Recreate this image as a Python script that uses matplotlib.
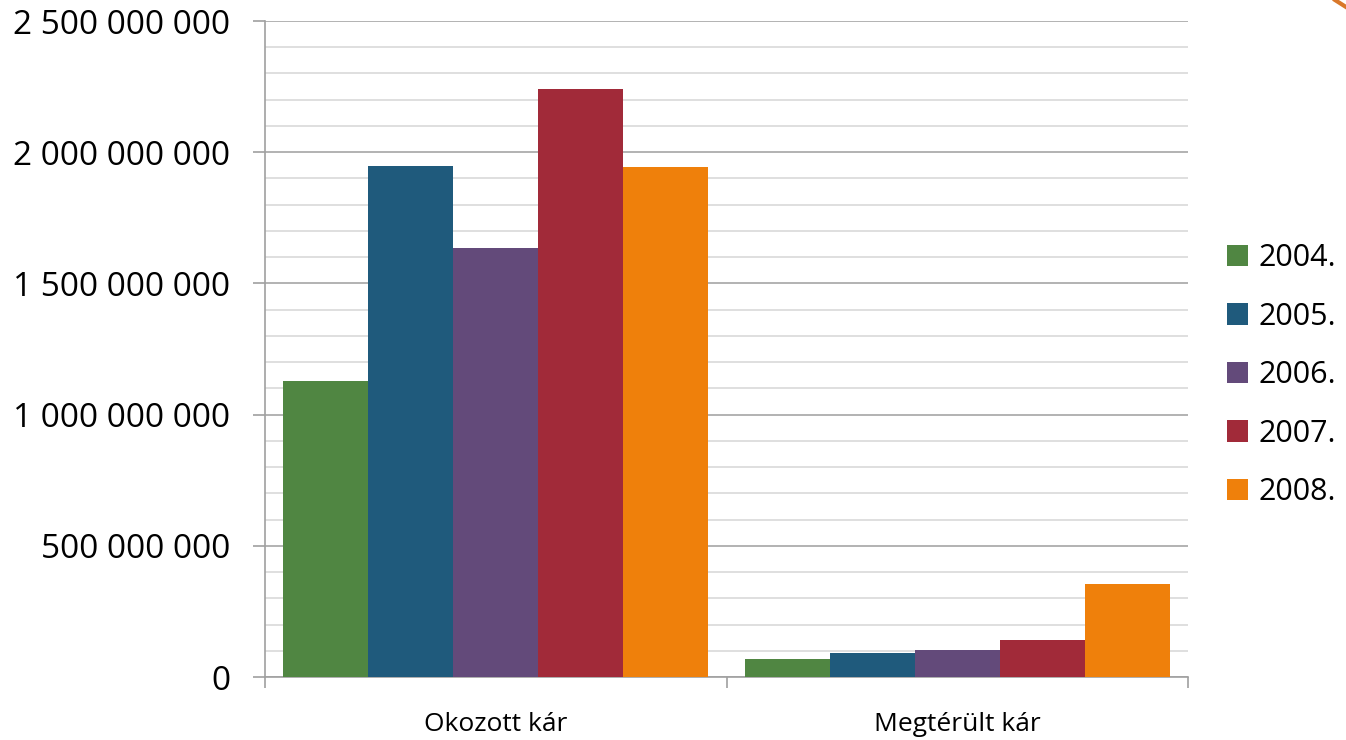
import numpy as np
import matplotlib.pyplot as plt
from matplotlib.lines import Line2D
from matplotlib.ticker import FuncFormatter, MultipleLocator

plt.rcParams['font.family'] = ['Open Sans', 'DejaVu Sans']

categories = ['Okozott kár', 'Megtérült kár']
years = ['2004.', '2005.', '2006.', '2007.', '2008.']
colors = ['#508642', '#1F5A7C', '#634A7A', '#A12A39', '#EF800B']

# one list per year: [Okozott kár, Megtérült kár]
values_2004 = [1128000000, 68000000]
values_2005 = [1947000000, 93000000]
values_2006 = [1635000000, 102000000]
values_2007 = [2241000000, 141000000]
values_2008 = [1944000000, 354000000]
series = [values_2004, values_2005, values_2006, values_2007, values_2008]

fig = plt.figure(figsize=(13.46, 7.4), dpi=100)
ax = fig.add_axes([0.1969, 0.0851, 0.8826 - 0.1969, 0.9716 - 0.0851])

x = np.arange(len(categories))
width = 0.184
for i, (vals, col, yr) in enumerate(zip(series, colors, years)):
    ax.bar(x + (i - 2) * width, vals, width, color=col, label=yr, zorder=3)

ax.set_xlim(-0.5, 1.5)
ax.set_ylim(0, 2500000000)

# gridlines: major every 500M, minor every 100M
ax.yaxis.set_major_locator(MultipleLocator(500000000))
ax.yaxis.set_minor_locator(MultipleLocator(100000000))
ax.grid(axis='y', which='major', color='#A6A6A6', linewidth=1.2, zorder=0)
ax.grid(axis='y', which='minor', color='#D9D9D9', linewidth=1.2, zorder=0)
ax.yaxis.set_major_formatter(FuncFormatter(lambda v, p: f'{int(v):,}'.replace(',', ' ')))
ax.tick_params(axis='y', which='major', length=9, width=1.2, color='#A0A0A0',
               labelsize=24, pad=16)
ax.tick_params(axis='y', which='minor', length=0)

# category ticks sit at the group boundaries
ax.set_xticks([-0.5, 0.5, 1.5])
ax.set_xticklabels([])
ax.set_xticks(x, minor=True)
ax.set_xticklabels(categories, minor=True)
ax.tick_params(axis='x', which='major', length=8, width=1.2, color='#A0A0A0', direction='out')
ax.tick_params(axis='x', which='minor', length=0, labelsize=19, pad=25)

for side in ['top', 'right']:
    ax.spines[side].set_visible(False)
for side in ['left', 'bottom']:
    ax.spines[side].set_color('#A0A0A0')
    ax.spines[side].set_linewidth(1.2)

leg = ax.legend(loc='center left', bbox_to_anchor=(1.029, 0.46), frameon=False,
                fontsize=22, handlelength=0.7, handleheight=0.7,
                labelspacing=0.93, handletextpad=0.33, borderpad=0.4,
                borderaxespad=0)

# small orange corner stroke from the slide
fig.add_artist(Line2D([1335 / 1346, 1.0], [1.0, 733 / 740], transform=fig.transFigure,
                      color='#D9782A', linewidth=3))

fig.savefig('out.png', dpi=100)
